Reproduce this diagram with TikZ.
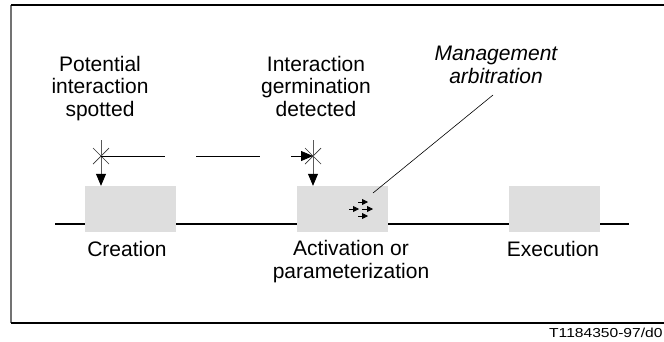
\documentclass[tikz,border=0pt]{standalone}
\usepackage{fontspec}
\usepackage{graphicx}
\setmainfont{Liberation Sans}
\usetikzlibrary{arrows.meta,calc}

\tikzset{
  stage/.style={draw=none, fill=black!13, minimum width=91pt, minimum height=46pt, inner sep=0pt},
  lbl/.style={align=center, inner sep=0pt, anchor=base, font=\fontsize{21}{22.5}\selectfont},
  crossmark/.style={line width=0.7pt, black!80},
  event/.style={line width=0.8pt, black!65, -{Triangle[length=12pt,width=10pt,color=black,fill=black]}},
  relay/.style={line width=0.8pt, dash pattern=on 64pt off 31pt, -{Triangle[length=12pt,width=10pt]}},
  tiny/.style={line width=0.8pt, -{Triangle[length=6pt,width=6pt]}},
  frame/.style={line width=1.3pt}
}

\begin{document}
\begin{tikzpicture}[x=1pt,y=-1pt]
  \useasboundingbox (0,0) rectangle (664,341);

  % open frame
  \draw[frame, black!55] (11,5) -- (11,323);
  \draw[frame] (11,5) -- (664,5);
  \draw[frame] (11,323) -- (664,323);

  % time line
  \coordinate (t0) at (55,224);
  \coordinate (t1) at (629,224);
  \draw[line width=2.3pt] (t0) -- (t1);

  % stages
  \node[stage] (creation)   at (130.5,209) {};
  \node[stage] (activation) at (342,209) {};
  \node[stage] (execution)  at (554,209) {};

  % stage labels
  \node[lbl] (lcreation) at (127,256) {Creation};
  \node[lbl] (lactivation) at (351,278) {Activation or\\parameterization};
  \node[lbl] (lexecution) at (553,256) {Execution};

  % event labels
  \node[lbl] (lspot) at (100,116) {Potential\\interaction\\spotted};
  \node[lbl] (lgerm) at (316,116) {Interaction\\germination\\detected};
  \node[lbl, font=\fontsize{21}{23}\selectfont\itshape] (lmgmt) at (496,83) {Management\\arbitration};

  % event crosses
  \coordinate (c1) at (101,156);
  \coordinate (c2) at (313,156);
  \foreach \c in {c1,c2}{
    \draw[crossmark] ($(\c)+(-8,-8)$) -- ($(\c)+(8,8)$);
    \draw[crossmark] ($(\c)+(-8,8)$) -- ($(\c)+(8,-8)$);
  }
  \coordinate (c1top) at (101,140);
  \coordinate (c2top) at (313,140);
  \draw[event] (c1top) -- (creation.north -| c1top);
  \draw[event] (c2top) -- (activation.north -| c2top);

  % propagation from spotted to detected
  \draw[relay] (c1) -- (c2);

  % arbitration pointer and symbol
  \coordinate (m0) at (373,193);
  \coordinate (m1) at (493,95);
  \draw[line width=0.6pt] (m0) -- (m1);
  \coordinate (a1) at (358,202);
  \coordinate (a2) at (368,202);
  \coordinate (a3) at (349,209);
  \coordinate (a4) at (359,209);
  \coordinate (a5) at (362,209);
  \coordinate (a6) at (373,209);
  \coordinate (a7) at (358,216);
  \coordinate (a8) at (368,216);
  \draw[tiny] (a1) -- (a2);
  \draw[tiny] (a3) -- (a4);
  \draw[tiny] (a5) -- (a6);
  \draw[tiny] (a7) -- (a8);

  % figure reference
  \node[inner sep=0pt, anchor=base west] (ref) at (549,337)
    {\scalebox{1.2}[1]{\fontsize{13}{15}\selectfont T1184350-97/d0}};
\end{tikzpicture}
\end{document}
